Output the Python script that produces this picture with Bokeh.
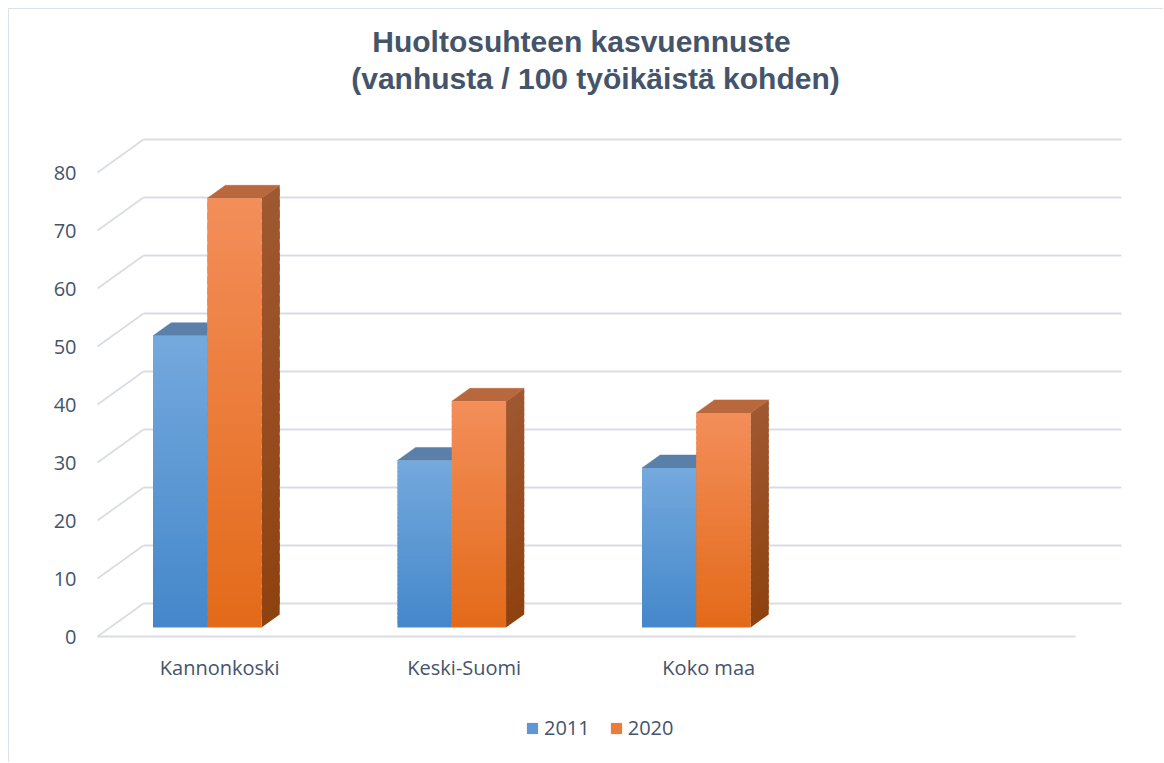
from bokeh.plotting import figure
from bokeh.models import (FixedTicker, Range1d, Legend, LegendItem, Label,
                          ColumnDataSource)
from bokeh.embed import file_html
from bokeh.resources import INLINE

# ---------------- data ----------------
categories = ["Kannonkoski", "Keski-Suomi", "Koko maa"]
series_names = ["2011", "2020"]
values_2011 = [50.3, 28.8, 27.5]
values_2020 = [74.0, 39.0, 37.0]
y_ticks = [0, 10, 20, 30, 40, 50, 60, 70, 80]
title_lines = ["Huoltosuhteen kasvuennuste", "(vanhusta / 100 työikäistä kohden)"]

# ---------------- style / geometry ----------------
N_SLOTS = 4            # category slots on the floor (last one is empty)
PX_X = 244.5           # pixels per category slot
PX_Y = 5.8             # pixels per value unit
ORIGIN_X, ORIGIN_Y = 97, 636   # page pixel of (x=0, value=0) on the front plane
DEPTH_X = 46 / PX_X    # oblique depth offset (x units)
DEPTH_Y = 33 / PX_Y    # oblique depth offset (value units)
F0, F1 = 9 / 33, 22 / 33   # bar front / back depth fractions
GROUP_LEFT = 0.227
BAR_W = 0.222
N_STRIPS = 40

TEXT = "#44546a"
GRID = "#d9dde3"
FONT = "Open Sans"

series_style = [
    dict(front_top="#74a9dd", front_bottom="#4487ca", top="#5a7fa8",
         side_top="#4f77a6", side_bottom="#2f5f95"),
    dict(front_top="#f38e5a", front_bottom="#e36a19", top="#b8683c",
         side_top="#a05831", side_bottom="#8e420f"),
]


def hex2rgb(h):
    h = h.lstrip("#")
    return tuple(int(h[i:i + 2], 16) for i in (0, 2, 4))


def mix(c_bottom, c_top, t):
    a, b = hex2rgb(c_bottom), hex2rgb(c_top)
    return "#%02x%02x%02x" % tuple(round(a[i] + (b[i] - a[i]) * t) for i in range(3))


def xd(px):   # page pixel -> x data
    return (px - ORIGIN_X) / PX_X


def yd(py):   # page pixel -> value data
    return (ORIGIN_Y - py) / PX_Y


# canvas occupies page pixels 9..1164 (x) and 9..763 (y)
FRAME_L, FRAME_R, FRAME_T, FRAME_B = 95, 1164, 9, 763
W, H = 1155, 754
p = figure(width=W, height=H, output_backend="svg", toolbar_location=None,
           x_range=Range1d(xd(FRAME_L), xd(FRAME_R)),
           y_range=Range1d(yd(FRAME_B), yd(FRAME_T)),
           min_border_left=FRAME_L - 9, min_border_right=0,
           min_border_top=0, min_border_bottom=0,
           background_fill_color="white", border_fill_color="white")
p.styles = {"border-left": "1px solid #dde2e9", "border-top": "1px solid #dde2e9",
            "margin-left": "8px", "margin-top": "8px"}
p.outline_line_color = None
p.xgrid.visible = False
p.ygrid.visible = False

# ---------------- walls / floor gridlines ----------------
p.segment(x0=[DEPTH_X] * len(y_ticks), x1=[N_SLOTS + DEPTH_X] * len(y_ticks),
          y0=[t + DEPTH_Y for t in y_ticks], y1=[t + DEPTH_Y for t in y_ticks],
          line_color=GRID, line_width=1.8)
p.segment(x0=[0] * len(y_ticks), x1=[DEPTH_X] * len(y_ticks),
          y0=y_ticks, y1=[t + DEPTH_Y for t in y_ticks],
          line_color=GRID, line_width=1.8)
p.segment(x0=[0], x1=[N_SLOTS], y0=[0], y1=[0], line_color=GRID, line_width=1.8)

# ---------------- 3D bars ----------------
ddx = (F1 - F0) * DEPTH_X
ddy = (F1 - F0) * DEPTH_Y
base = F0 * DEPTH_Y

tops, sides, fronts = [], [], []
for k, vals in enumerate([values_2011, values_2020]):
    st = series_style[k]
    top = dict(xs=[], ys=[], color=[])
    side = dict(xs=[], ys=[], color=[])
    front = dict(left=[], right=[], bottom=[], top=[], color=[])
    for i, v in enumerate(vals):
        x0 = i + GROUP_LEFT + k * BAR_W
        x1 = x0 + BAR_W
        yt = base + v
        top["xs"].append([x0, x1, x1 + ddx, x0 + ddx])
        top["ys"].append([yt, yt, yt + ddy, yt + ddy])
        top["color"].append(st["top"])
        for j in range(N_STRIPS):
            ya = base + v * j / N_STRIPS
            yb = min(base + v * (j + 1.7) / N_STRIPS, yt)   # overlap hides seams
            t = (j + 0.5) / N_STRIPS
            front["left"].append(x0)
            front["right"].append(x1)
            front["bottom"].append(ya)
            front["top"].append(yb)
            front["color"].append(mix(st["front_bottom"], st["front_top"], t))
            side["xs"].append([x1, x1 + ddx, x1 + ddx, x1])
            side["ys"].append([ya, ya + ddy, yb + ddy, yb])
            side["color"].append(mix(st["side_bottom"], st["side_top"], t))
    tops.append(top)
    sides.append(side)
    fronts.append(front)

for d in tops:
    p.patches("xs", "ys", source=ColumnDataSource(d), fill_color="color",
              line_color="color", line_width=0.5)
for d in sides:
    p.patches("xs", "ys", source=ColumnDataSource(d), fill_color="color",
              line_color=None)
front_renderers = []
for d in fronts:
    r = p.quad(left="left", right="right", bottom="bottom", top="top",
               source=ColumnDataSource(d), fill_color="color", line_color=None)
    front_renderers.append(r)

# ---------------- axes ----------------
yax = p.yaxis[0]
yax.ticker = FixedTicker(ticks=y_ticks)
yax.axis_line_color = None
yax.major_tick_line_color = None
yax.minor_tick_line_color = None
yax.major_tick_out = 0
yax.major_tick_in = 0
yax.major_label_standoff = 19
yax.major_label_text_font = FONT
yax.major_label_text_font_size = "20px"
yax.major_label_text_color = TEXT

xax = p.xaxis[0]
xax.fixed_location = 0
xax.ticker = FixedTicker(ticks=[i + 0.5 for i in range(len(categories))])
xax.major_label_overrides = {i + 0.5: c for i, c in enumerate(categories)}
xax.axis_line_color = None
xax.major_tick_line_color = None
xax.minor_tick_line_color = None
xax.major_tick_out = 0
xax.major_tick_in = 0
xax.major_label_standoff = 17
xax.major_label_text_font = FONT
xax.major_label_text_font_size = "20px"
xax.major_label_text_color = TEXT

# ---------------- legend (screen offsets from frame bottom-left) ----------------
mid = N_STRIPS // 2
legend = Legend(
    items=[LegendItem(label=series_names[k], renderers=[front_renderers[k]], index=mid)
           for k in range(2)],
    orientation="horizontal", location=(525 - FRAME_L, FRAME_B - 741),
    glyph_width=14, glyph_height=14, label_standoff=5, spacing=19,
    label_text_font=FONT, label_text_font_size="20px", label_text_color=TEXT,
    border_line_color=None, background_fill_alpha=0, padding=0, margin=0)
p.add_layout(legend, "center")

# ---------------- title ----------------
for line, px, py in zip(title_lines, [581, 595], [41, 78]):
    p.add_layout(Label(x=xd(px), y=yd(py), text=line,
                       text_align="center", text_baseline="middle",
                       text_font="Liberation Sans", text_font_style="bold",
                       text_font_size="30px", text_color=TEXT))

open("out.html", "w").write(file_html(p, INLINE))
